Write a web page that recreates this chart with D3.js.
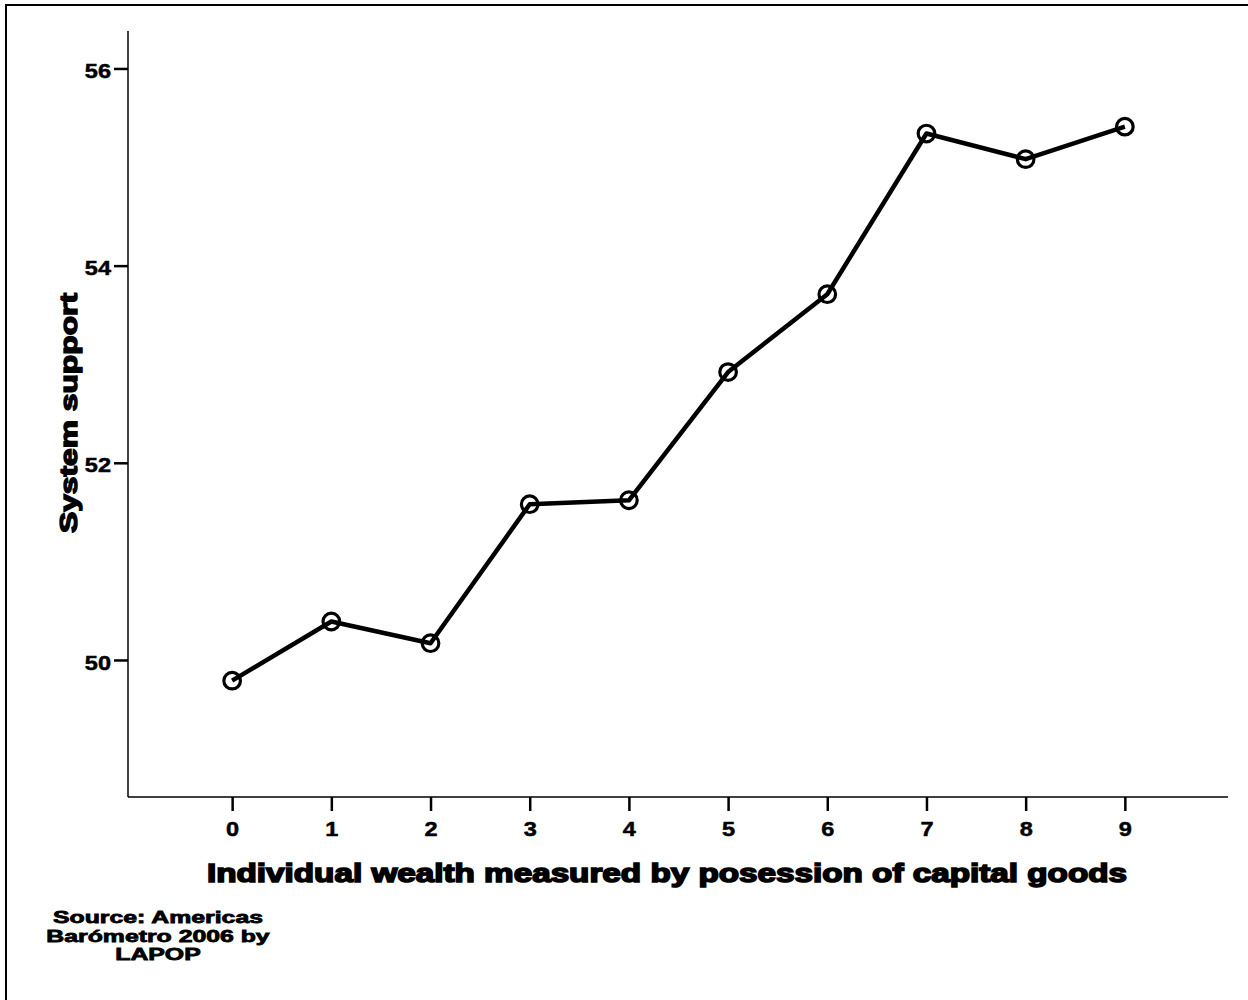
<!DOCTYPE html>
<html>
<head>
<meta charset="utf-8">
<script src="https://cdn.jsdelivr.net/npm/d3@7"></script>
<style>
html,body{margin:0;padding:0;background:#fff;}
svg{display:block;}
</style>
</head>
<body>
<svg id="chart" width="1248" height="1000"></svg>
<script>
const categories = [0, 1, 2, 3, 4, 5, 6, 7, 8, 9];
const systemSupport = [49.79, 50.39, 50.17, 51.58, 51.62, 52.92, 53.71, 55.34, 55.08, 55.41];
const yTicks = [50, 52, 54, 56];
const xTitle = "Individual wealth measured by posession of capital goods";
const yTitle = "System support";
const sourceLines = ["Source: Americas", "Barómetro 2006 by", "LAPOP"];

(function () {
const svg = d3.select("#chart");
const fontTick = "'Liberation Sans', Arial, sans-serif";

// outer frame (only top and left edges visible)
svg.append("rect").attr("x", 6).attr("y", 5).attr("width", 1400).attr("height", 1200)
  .attr("fill", "none").attr("stroke", "#000").attr("stroke-width", 2);

const pL = 128, pR = 1228, pT = 31, pB = 797;
const x = d3.scaleLinear().domain([-1.05, 10.04]).range([pL, pR]);
const y = d3.scaleLinear().domain([48.61, 56.38]).range([pB, pT]);

// axes
const xAxis = d3.axisBottom(x).tickValues(categories).tickSize(14).tickPadding(10).tickFormat(d3.format("d"));
const gx = svg.append("g").attr("transform", `translate(0,${pB})`).call(xAxis);
const yAxis = d3.axisLeft(y).tickValues(yTicks).tickSize(14).tickPadding(4).tickFormat(d3.format("d"));
const gy = svg.append("g").attr("transform", `translate(${pL},0)`).call(yAxis);

[gx, gy].forEach(g => {
  g.attr("font-size", null).attr("font-family", null);
  g.select(".domain").attr("stroke", "#000").attr("stroke-width", 1.5);
  g.selectAll(".tick line").attr("stroke", "#000").attr("stroke-width", 2.5);
  g.selectAll(".tick text").attr("fill", "#000")
    .style("font-family", fontTick).style("font-weight", "bold").style("font-size", "21px")
    .attr("stroke", "#000").attr("stroke-width", 0.5);
});
gy.select(".domain").attr("d", `M0,${pB}V${pT}`);
gx.select(".domain").attr("d", `M${pL},0H${pR}`);
gy.selectAll(".tick text").attr("dy", "0.72em").attr("y", -6).attr("x", -17);
// slightly wider glyphs like the reference
[gx, gy].forEach(g => g.selectAll(".tick text").each(function () {
  const w = this.getComputedTextLength();
  d3.select(this).attr("textLength", w * 1.12).attr("lengthAdjust", "spacingAndGlyphs");
}));

// line
const data = categories.map((c, i) => ({x: c, y: systemSupport[i]}));
svg.append("path").datum(data)
  .attr("fill", "none").attr("stroke", "#000").attr("stroke-width", 4.5).attr("stroke-linejoin", "round")
  .attr("d", d3.line().x(d => x(d.x)).y(d => y(d.y)));

svg.append("g").selectAll("circle").data(data).join("circle")
  .attr("cx", d => x(d.x)).attr("cy", d => y(d.y)).attr("r", 8.3)
  .attr("fill", "none").attr("stroke", "#000").attr("stroke-width", 3.2);

// titles
svg.append("text").attr("x", 667).attr("y", 882).attr("text-anchor", "middle")
  .style("font-family", fontTick).style("font-weight", "bold").style("font-size", "26px")
  .attr("stroke", "#000").attr("stroke-width", 1.6).attr("fill", "#000")
  .attr("textLength", 920).attr("lengthAdjust", "spacingAndGlyphs")
  .text(xTitle);

svg.append("text").attr("transform", "translate(77,413) rotate(-90)").attr("text-anchor", "middle")
  .style("font-family", fontTick).style("font-weight", "bold").style("font-size", "24px")
  .attr("stroke", "#000").attr("stroke-width", 1.4).attr("fill", "#000")
  .attr("textLength", 240).attr("lengthAdjust", "spacingAndGlyphs")
  .text(yTitle);

const src = svg.append("g").selectAll("text").data(sourceLines).join("text")
  .attr("x", 158).attr("y", (d, i) => 923 + i * 18.5).attr("text-anchor", "middle")
  .style("font-family", fontTick).style("font-weight", "bold").style("font-size", "17px")
  .attr("stroke", "#000").attr("stroke-width", 0.8).attr("fill", "#000")
  .text(d => d);
const w0 = src.nodes()[0].getComputedTextLength();
const k = 210 / w0;
src.each(function () {
  const w = this.getComputedTextLength();
  d3.select(this).attr("textLength", w * k).attr("lengthAdjust", "spacingAndGlyphs");
});
})();
</script>
</body>
</html>
